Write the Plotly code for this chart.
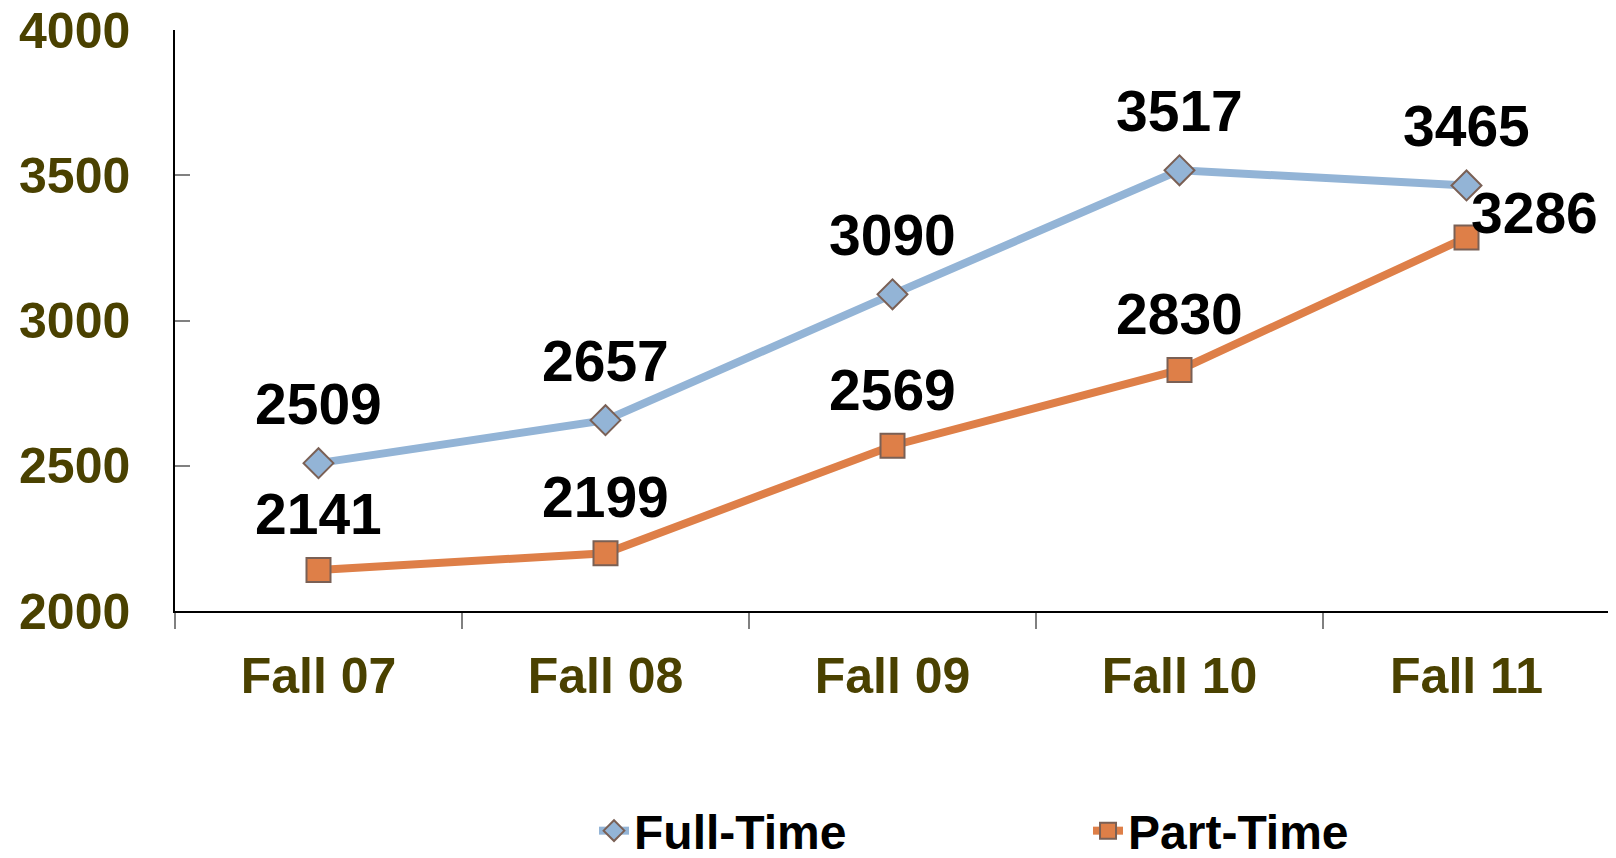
import plotly.graph_objects as go

categories = ["Fall 07", "Fall 08", "Fall 09", "Fall 10", "Fall 11"]
full_time = [2509, 2657, 3090, 3517, 3465]
part_time = [2141, 2199, 2569, 2830, 3286]
y_ticks = [2000, 2500, 3000, 3500, 4000]

FONT = "Arial, Liberation Sans, sans-serif"
OLIVE = "#4a4100"
BLUE = "#93b4d6"
ORANGE = "#de7f48"
EDGE = "#7a6055"

fig = go.Figure()
fig.add_trace(go.Scatter(
    x=categories, y=full_time, name="Full-Time", mode="lines+markers",
    line=dict(color=BLUE, width=8),
    marker=dict(symbol="diamond", size=23, color=BLUE, line=dict(color=EDGE, width=2)),
))
fig.add_trace(go.Scatter(
    x=categories, y=part_time, name="Part-Time", mode="lines+markers",
    line=dict(color=ORANGE, width=8),
    marker=dict(symbol="square", size=24, color=ORANGE, line=dict(color=EDGE, width=2)),
))

annotations = []
for c, v in zip(categories, full_time):
    annotations.append(dict(x=c, y=v, text=str(v), showarrow=False, yanchor="middle",
                            xanchor="center", yshift=59,
                            font=dict(family=FONT, size=57, color="black", weight="bold")))
for i, (c, v) in enumerate(zip(categories, part_time)):
    last = i == len(categories) - 1
    annotations.append(dict(x=c, y=v, text=str(v), showarrow=False, yanchor="middle",
                            xanchor="center", yshift=24 if last else 56,
                            xshift=68 if last else 0,
                            font=dict(family=FONT, size=57, color="black", weight="bold")))

fig.update_layout(
    width=1608, height=850,
    margin=dict(l=167, r=6, t=22, b=247, autoexpand=False),
    plot_bgcolor="white", paper_bgcolor="white",
    font=dict(family=FONT, weight="bold"),
    showlegend=True,
    legend=dict(orientation="h", x=0.292, xanchor="left", y=-0.444, yanchor="bottom",
                font=dict(family=FONT, size=48, color="black", weight="bold"),
                entrywidth=449, entrywidthmode="pixels",
                bgcolor="rgba(0,0,0,0)"),
    annotations=annotations,
    xaxis=dict(
        type="category", range=[-0.5, 4.5], tickson="boundaries", automargin=False,
        ticks="outside", ticklen=16, tickcolor="#808080", tickwidth=1.5,
        showline=True, linecolor="black", linewidth=1.5, showgrid=False,
        tickfont=dict(family=FONT, size=50, color=OLIVE, weight="bold"),
        ticklabelstandoff=20, ticklabeloverflow="allow",
    ),
    yaxis=dict(
        range=[2000, 4000], tickvals=y_ticks, automargin=False,
        ticks="inside", ticklen=15, tickcolor="#808080", tickwidth=1.5,
        showline=True, linecolor="black", linewidth=1.5, showgrid=False, zeroline=False,
        tickfont=dict(family=FONT, size=50, color=OLIVE, weight="bold"),
        ticklabelstandoff=33, ticklabeloverflow="allow",
    ),
)

fig.write_html("out.html")
